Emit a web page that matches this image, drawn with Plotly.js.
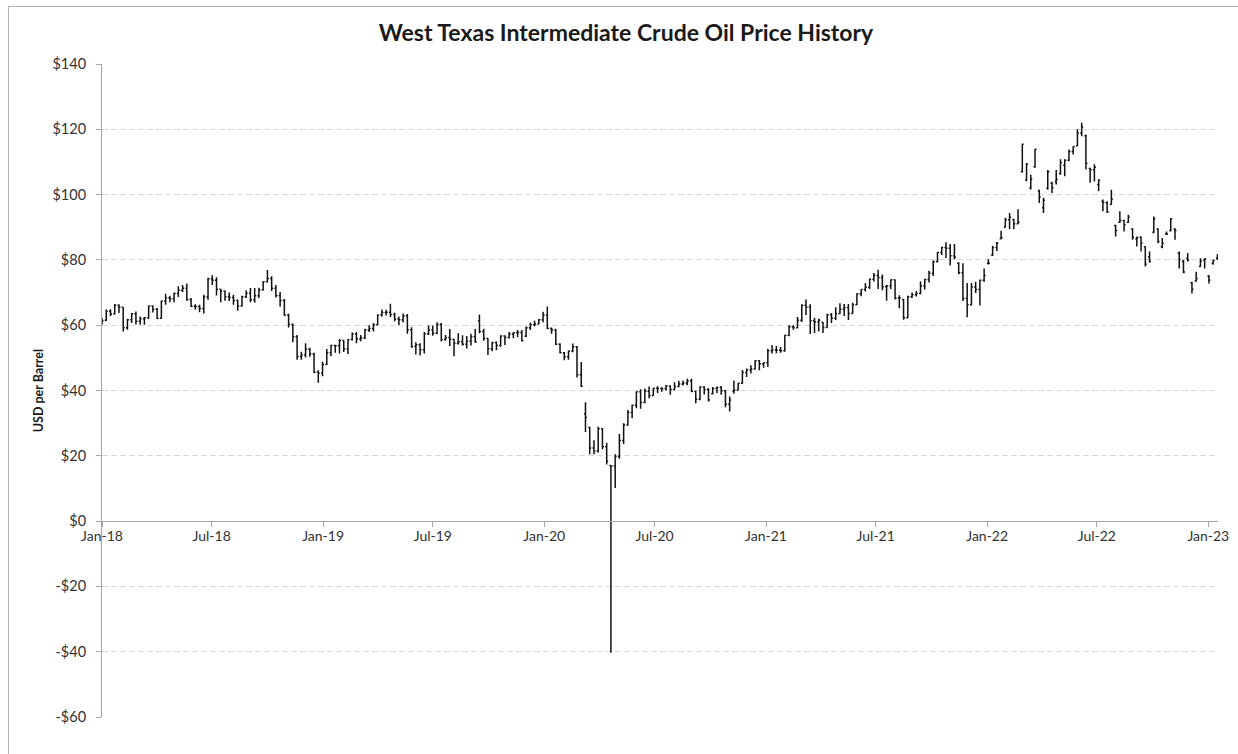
<!DOCTYPE html>
<html>
<head>
<meta charset="utf-8">
<script src="https://cdn.plot.ly/plotly-3.0.1.min.js"></script>
<style>
  html, body { margin: 0; padding: 0; background: #ffffff; overflow: hidden; }
  #chart { position: absolute; left: 0; top: 0; width: 1238px; height: 754px; }
  #frame { position: absolute; left: 8px; top: 6px; width: 1300px; height: 800px;
           border: 1px solid #b4b4b4; pointer-events: none; }
</style>
</head>
<body>
<div id="chart"></div>
<div id="frame"></div>
<script>
// Weekly bars, one per week starting Monday 2018-01-01 (264 weeks, to 2023-01-16)
const firstWeek = '2018-01-01';
const weekCount = 264;

const openPrices = [
  // 2018
  60.4,61.5,64.3,63.4,66.1,65.5,59.2,61.7,63.5,61.2, 62.0,62.3,65.9,64.9,62.1,67.4,68.4,68.1,69.7,70.7,
  71.3,67.9,65.8,65.7,65.1,68.6,74.2,73.8,71.0,70.5, 68.7,68.5,67.6,65.9,68.7,69.8,67.8,69.0,70.8,73.3,
  74.3,71.3,69.1,67.6,63.1,60.2,56.5,50.4,50.9,52.6, 51.2,45.6,45.3,
  // 2019
  48.0,51.6,53.8,53.7,55.3,52.7,55.6,57.3,55.8,56.1, 58.5,59.0,60.1,63.1,63.9,64.0,63.3,61.9,61.7,62.8,
  58.6,53.5,54.0,52.5,57.4,58.5,57.5,60.2,55.6,56.2, 55.7,54.5,54.9,54.2,55.1,56.5,61.3,58.1,55.9,52.8,
  54.7,53.8,56.7,56.2,57.2,57.7,57.8,56.6,59.2,60.1, 60.4,61.7,
  // 2020
  63.1,59.0,58.5,54.2,51.6,50.3,52.1,53.4,44.8,32.9, 28.7,22.4,21.5,28.3,22.8,17.0,16.9,19.8,24.7,29.4,
  33.3,35.5,39.6,36.3,39.8,38.5,40.7,40.6,40.6,41.3, 40.3,41.2,42.0,42.3,43.0,39.8,37.3,41.1,40.3,39.0,
  40.6,40.9,39.9,35.8,39.8,40.1,42.2,45.5,46.3,46.6, 49.1,48.2,
  // 2021
  48.5,52.2,52.4,52.3,52.2,56.9,59.5,59.2,61.5,66.1, 65.6,61.4,61.0,60.9,59.3,63.1,62.1,63.6,64.9,65.4,
  63.6,66.3,69.6,70.9,71.6,74.1,75.2,74.6,71.8,72.1, 73.9,68.3,67.9,62.3,68.7,69.3,69.7,72.0,74.0,75.9,
  79.4,82.3,83.8,83.6,81.3,79.0,76.1,68.2,66.3,71.7, 70.9,73.8,
  // 2022
  79.0,81.5,83.8,86.5,90.0,92.3,92.4,91.1,107.0,104.5, 102.0,108.5,101.0,96.0,102.0,103.5,104.0,106.5,109.0,110.5,
  113.2,115.0,118.9,118.0,108.0,107.6,103.0,98.0,97.5,97.0, 90.5,91.5,92.0,91.5,89.5,86.5,87.0,84.0,81.0,88.5,
  89.5,84.0,88.0,89.0,89.5,82.0,79.5,80.5,73.0,73.5, 78.0,80.0,
  // 2023
  75.0,79.0,80.5
];

const highPrices = [
  // 2018
  62.2,64.8,64.9,66.5,66.4,65.5,62.0,63.7,64.2,62.7, 62.5,66.0,66.0,65.3,67.5,69.6,69.0,70.0,71.9,72.3,
  72.8,68.3,66.4,66.3,69.3,74.5,75.3,74.7,71.0,70.6, 70.0,69.3,67.9,69.0,70.7,71.4,71.4,71.5,73.5,76.9,
  75.0,72.3,70.2,68.0,63.5,60.5,57.0,51.9,54.5,53.1, 51.6,46.2,48.8,
  // 2019
  52.7,54.0,54.0,55.8,55.4,55.8,57.8,57.9,57.0,58.9, 60.0,60.6,63.3,64.8,64.7,66.6,63.8,62.7,63.6,63.4,
  59.4,54.8,54.5,57.9,59.9,59.9,60.9,60.7,57.0,58.8, 55.8,57.5,56.9,56.7,57.4,58.8,63.3,58.9,56.0,54.9,
  55.0,56.9,56.9,57.9,57.9,58.5,58.5,59.6,60.8,61.4, 61.9,64.1,
  // 2020
  65.7,59.3,58.9,54.5,51.8,52.2,54.4,53.6,48.7,36.4, 28.9,24.8,28.9,28.4,24.0,17.1,20.5,26.7,30.0,34.0,
  35.6,39.7,40.4,40.6,41.2,40.8,41.3,41.0,41.7,41.6, 42.5,43.0,43.1,43.6,43.6,39.9,41.3,41.3,40.8,41.1,
  41.2,41.4,40.0,38.2,43.1,42.3,46.3,46.7,47.7,49.3, 49.3,48.6,
  // 2021
  52.8,53.9,53.6,53.3,57.0,60.0,60.0,62.5,66.4,67.9, 66.4,62.3,62.0,61.0,63.5,63.7,65.5,66.7,66.5,66.5,
  66.9,69.8,71.0,72.9,74.3,76.0,77.0,75.5,72.3,74.0, 74.0,69.2,68.0,69.0,70.0,70.5,73.4,74.2,76.7,79.8,
  82.4,84.0,85.4,84.9,84.9,79.3,79.0,72.9,72.9,73.3, 73.9,77.4,
  // 2022
  80.2,84.3,85.5,88.9,92.9,94.4,92.6,95.5,115.6,109.7, 106.1,114.0,101.6,99.0,107.5,103.9,107.5,110.8,110.8,113.8,
  114.8,120.0,122.0,118.4,108.2,109.3,104.6,98.5,98.0,101.5, 90.8,94.9,92.3,93.8,89.7,87.2,87.2,84.1,82.6,93.3,
  89.7,86.7,88.7,92.8,89.7,82.6,80.0,82.1,73.3,76.4, 80.5,80.5,
  // 2023
  75.4,80.0,81.7
];

const lowPrices = [
  // 2018
  60.1,61.3,62.8,63.3,63.7,58.1,58.6,60.7,60.2,60.2, 60.1,61.9,63.9,61.8,62.0,66.3,67.0,67.0,68.6,70.2,
  67.5,65.6,64.8,64.0,63.6,67.8,72.3,69.1,67.0,67.5, 67.4,66.3,64.4,65.7,68.3,67.0,66.9,68.3,70.6,73.1,
  70.5,68.5,65.7,62.8,59.3,54.8,49.4,49.4,50.1,50.3, 45.3,42.4,44.4,
  // 2019
  47.8,50.5,51.6,51.3,51.8,51.2,55.3,54.5,55.1,55.8, 57.9,58.1,60.0,62.6,63.0,62.5,61.2,60.0,60.8,57.4,
  53.1,51.0,50.7,51.3,57.0,56.8,57.2,55.0,55.2,53.6, 50.5,54.1,53.8,52.9,53.8,54.6,57.5,55.2,50.9,52.0,
  52.3,53.4,53.9,55.9,56.0,56.3,55.0,56.4,58.5,59.7, 60.3,60.9,
  // 2020
  58.8,57.4,53.9,51.3,49.3,49.4,51.7,44.0,41.1,27.3, 20.5,20.5,21.0,22.0,17.3,-40.3,10.1,19.1,23.6,29.2,
  31.5,34.6,34.4,36.1,37.6,38.4,39.2,39.6,40.0,38.7, 40.1,41.0,41.5,41.6,39.5,36.1,37.0,38.8,36.6,38.8,
  39.2,38.7,34.9,33.6,39.0,40.0,42.1,44.1,45.2,46.4, 46.2,47.0,
  // 2021
  47.2,51.3,51.4,51.6,51.9,56.6,58.6,59.1,61.0,63.1, 57.3,57.6,58.1,57.6,59.2,60.7,61.6,63.4,62.8,61.6,
  63.5,66.2,68.9,70.3,71.1,73.4,71.1,70.7,67.5,71.1, 67.9,65.2,61.7,62.2,68.3,68.8,69.5,70.9,73.1,75.1,
  79.3,81.5,80.6,78.3,80.2,75.6,67.4,62.4,66.0,69.9, 66.0,73.3,
  // 2022
  78.6,81.2,82.7,86.3,89.9,89.4,89.4,90.9,106.8,104.1, 101.6,108.2,97.4,94.4,101.5,100.5,103.1,106.1,105.6,110.2,
  112.3,114.8,117.9,107.7,103.6,104.0,101.0,94.9,94.4,96.9, 87.2,91.3,88.7,91.3,86.2,84.1,82.6,78.0,79.2,88.2,
  85.1,83.6,87.6,88.7,86.2,77.4,75.9,79.5,69.7,73.3, 77.9,77.4,
  // 2023
  72.8,78.5,80.0
];

const closePrices = [
  // 2018
  61.4,64.3,63.4,66.1,65.5,59.2,61.7,63.5,61.2,62.0, 62.3,65.9,64.9,62.1,67.4,68.4,68.1,69.7,70.7,71.3,
  67.9,65.8,65.7,65.1,68.6,74.2,73.8,71.0,70.5,68.7, 68.5,67.6,65.9,68.7,69.8,67.8,69.0,70.8,73.3,74.3,
  71.3,69.1,67.6,63.1,60.2,56.5,50.4,50.9,52.6,51.2, 45.6,45.3,48.0,
  // 2019
  51.6,53.8,53.7,55.3,52.7,55.6,57.3,55.8,56.1,58.5, 59.0,60.1,63.1,63.9,64.0,63.3,61.9,61.7,62.8,58.6,
  53.5,54.0,52.5,57.4,58.5,57.5,60.2,55.6,56.2,55.7, 54.5,54.9,54.2,55.1,56.5,54.9,58.1,55.9,52.8,54.7,
  53.8,56.7,56.2,57.2,57.7,57.8,55.2,59.2,60.1,60.4, 61.7,63.1,
  // 2020
  59.0,58.5,54.2,51.6,50.3,52.1,53.4,44.8,41.3,31.7, 22.4,21.5,28.3,22.8,18.3,16.9,19.8,24.7,29.4,33.3,
  35.5,39.6,36.3,39.8,38.5,40.7,40.6,40.6,41.3,40.3, 41.2,42.0,42.3,43.0,39.8,37.3,41.1,40.3,37.1,40.6,
  40.9,39.9,35.8,37.1,40.1,42.2,45.5,46.3,46.6,49.1, 48.2,48.5,
  // 2021
  52.2,52.4,52.3,52.2,56.9,59.5,59.2,61.5,66.1,65.6, 61.4,61.0,61.5,59.3,63.1,62.1,63.6,64.9,65.4,63.6,
  66.3,69.6,70.9,71.6,74.1,75.2,74.6,71.8,72.1,73.9, 68.3,68.4,62.3,68.7,69.3,69.7,72.0,74.0,75.9,79.4,
  82.3,83.8,83.6,81.3,80.8,76.1,68.2,66.3,71.7,70.9, 73.8,75.2,
  // 2022
  78.9,83.8,85.1,86.8,92.3,93.1,91.1,91.6,115.4,109.3, 104.7,113.9,99.3,98.3,107.0,102.1,104.7,109.8,110.5,113.2,
  114.7,118.9,120.7,109.6,107.6,108.4,104.5,97.6,94.7,98.6, 89.0,92.1,90.8,93.1,86.9,86.8,85.1,78.7,79.5,92.6,
  85.6,85.1,87.9,92.6,89.0,80.1,76.3,80.0,71.0,74.3, 79.6,80.3,
  // 2023
  73.8,79.9,81.6
];

const yTickValues = [-60, -40, -20, 0, 20, 40, 60, 80, 100, 120, 140];
const yTickLabels = ['-$60', '-$40', '-$20', '$0', '$20', '$40', '$60', '$80', '$100', '$120', '$140'];

const chartTitle = 'West Texas Intermediate Crude Oil Price History';
const yAxisTitle = 'USD per Barrel';

// weekly date categories
const weekDates = [];
const t0 = Date.parse(firstWeek + 'T00:00:00Z');
for (let i = 0; i < weekCount; i++) {
  weekDates.push(new Date(t0 + i * 7 * 86400000).toISOString().slice(0, 10));
}

const axisGrey = '#a6a6a6';
const fontFam = 'Lato, "Open Sans", sans-serif';

const trace = {
  type: 'ohlc',
  x: weekDates,
  open: openPrices,
  high: highPrices,
  low: lowPrices,
  close: closePrices,
  increasing: { line: { color: '#111111', width: 1.5 } },
  decreasing: { line: { color: '#111111', width: 1.5 } },
  tickwidth: 0.35,
  hoverinfo: 'skip',
  showlegend: false
};

const layout = {
  width: 1238,
  height: 754,
  margin: { l: 102, r: 20, t: 64, b: 37 },
  paper_bgcolor: 'rgba(255,255,255,0)',
  plot_bgcolor: 'rgba(255,255,255,0)',
  showlegend: false,
  title: {
    text: chartTitle,
    font: { family: fontFam, size: 23, color: '#1a1a1a', weight: 'bold' },
    xref: 'container', x: 626 / 1238, xanchor: 'center',
    yref: 'container', y: 1 - 33 / 754, yanchor: 'middle'
  },
  xaxis: {
    type: 'date',
    range: ['2018-01-01', '2023-01-17'],
    tick0: '2018-01-01',
    dtick: 'M6',
    tickformat: '%b-%y',
    ticks: 'outside',
    ticklen: 5,
    tickcolor: axisGrey,
    showline: true,
    linecolor: axisGrey,
    linewidth: 1,
    showgrid: false,
    zeroline: false,
    anchor: 'free',
    position: 0.3,
    ticklabelstandoff: -3,
    rangeslider: { visible: false },
    tickfont: { family: fontFam, size: 14, color: '#333333' }
  },
  yaxis: {
    range: [-60, 140],
    tickmode: 'array',
    tickvals: yTickValues,
    ticktext: yTickLabels,
    ticks: 'outside',
    ticklen: 5,
    tickcolor: axisGrey,
    showline: true,
    linecolor: axisGrey,
    linewidth: 1,
    showgrid: true,
    gridcolor: '#d9d9d9',
    gridwidth: 1,
    griddash: '6px,3px',
    zeroline: false,
    ticklabelstandoff: 7,
    tickfont: { family: fontFam, size: 14.5, color: '#333333' },
    title: {
      text: yAxisTitle,
      font: { family: fontFam, size: 12.5, color: '#1a1a1a', weight: 'bold' },
      standoff: 6
    }
  }
};

Plotly.newPlot('chart', [trace], layout, { staticPlot: true, displayModeBar: false });
</script>
</body>
</html>
